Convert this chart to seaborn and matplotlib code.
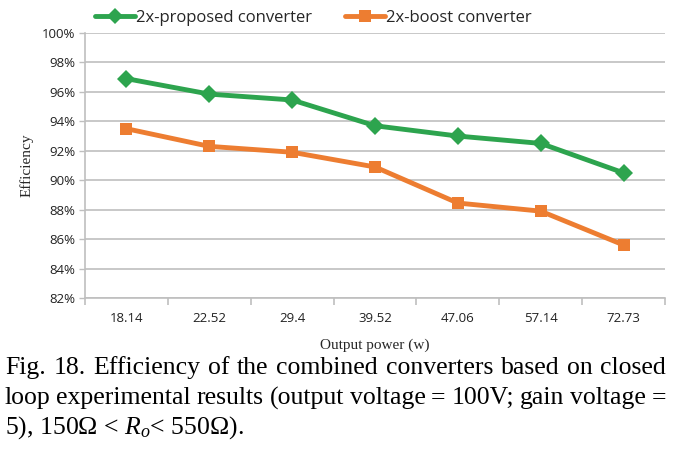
import numpy as np
import pandas as pd
import matplotlib
matplotlib.use("Agg")
import matplotlib.pyplot as plt
import seaborn as sns
from matplotlib.lines import Line2D

power = ["18.14", "22.52", "29.4", "39.52", "47.06", "57.14", "72.73"]
proposed = [96.9, 95.85, 95.45, 93.7, 93.0, 92.5, 90.5]
boost = [93.5, 92.3, 91.9, 90.9, 88.45, 87.9, 85.6]
series_names = ["2x-proposed converter", "2x-boost converter"]
yticks = [82, 84, 86, 88, 90, 92, 94, 96, 98, 100]

sns.set_theme(style="white")
plt.rcParams["font.family"] = ["Open Sans", "DejaVu Sans"]
plt.rcParams["mathtext.fontset"] = "custom"
plt.rcParams["mathtext.rm"] = "Liberation Serif"
plt.rcParams["mathtext.it"] = "Liberation Serif:italic"

df = pd.DataFrame({
    "pos": list(range(len(power))) * 2,
    "eff": proposed + boost,
    "series": [series_names[0]] * len(power) + [series_names[1]] * len(power),
})

fig = plt.figure(figsize=(6.85, 4.49), dpi=100)
ax = fig.add_axes([85 / 685, 1 - 298 / 449, 580 / 685, 265 / 449])

colors = {series_names[0]: "#2DA44E", series_names[1]: "#ED7D31"}
sns.lineplot(data=df, x="pos", y="eff", hue="series", style="series",
             markers={series_names[0]: "D", series_names[1]: "s"},
             dashes=False, palette=colors, linewidth=3.5,
             markersize=9, markeredgewidth=0, ax=ax, legend=False)

ax.set_xlim(-0.5, len(power) - 0.5)
ax.set_ylim(yticks[0], yticks[-1])
ax.set_yticks(yticks)
ax.set_yticklabels([f"{t}%" for t in yticks], fontsize=9.5, color="#222222")
ax.set_xticks(np.arange(len(power)))
ax.set_xticklabels(power, fontsize=9.5, color="#222222")
ax.tick_params(axis="x", length=0, pad=10)
ax.tick_params(axis="y", length=4, width=1, color="#BFBFBF", pad=3, direction="out", left=True)
ax.yaxis.grid(True, color="#BFBFBF", linewidth=1.2)
ax.set_axisbelow(True)
for s in ["top", "right"]:
    ax.spines[s].set_visible(False)
for s in ["left", "bottom"]:
    ax.spines[s].set_color("#BFBFBF")
    ax.spines[s].set_linewidth(1.2)
ax.set_xticks(np.arange(len(power) + 1) - 0.5, minor=True)
ax.tick_params(axis="x", which="minor", length=5, width=1.2, color="#BFBFBF", direction="out", bottom=True)

ax.set_xlabel("Output power (w)", fontsize=11, family="Liberation Serif", labelpad=10)
ax.set_ylabel("Efficiency", fontsize=11, family="Liberation Serif", labelpad=6)

handles = [Line2D([], [], color=colors[series_names[0]], marker="D", lw=3.5, ms=8, mew=0),
           Line2D([], [], color=colors[series_names[1]], marker="s", lw=3.5, ms=9, mew=0)]
fig.legend(handles, series_names, loc="center left", bbox_to_anchor=(95 / 685, 1 - 18 / 449),
           ncol=2, frameon=False, fontsize=12, handlelength=2.4, handletextpad=0.05,
           columnspacing=2.0, borderaxespad=0, borderpad=0)

cap_lines = [
    "Fig. 18. Efficiency of the combined converters based on closed",
    "loop experimental results (output voltage = 100V; gain voltage =",
]
cap_last = r"5), 150Ω < $R_o$< 550Ω)."
cap_fs = 18.5
left_px, right_px = 5, 666
ys = [368, 398, 428]
fig.canvas.draw()
r = fig.canvas.get_renderer()
for line, ypx in zip(cap_lines, ys):
    words = line.split(" ")
    texts = [fig.text(0, 1 - ypx / 449, w, fontsize=cap_fs, family="Liberation Serif",
                      va="center", ha="left", color="black") for w in words]
    widths = [t.get_window_extent(r).width for t in texts]
    gap = ((right_px - left_px) - sum(widths)) / (len(words) - 1)
    x = left_px
    for t, w in zip(texts, widths):
        t.set_x(x / 685)
        x += w + gap
fig.text(left_px / 685, 1 - ys[2] / 449, cap_last, fontsize=cap_fs, family="Liberation Serif",
         va="center", ha="left", color="black")

fig.savefig("out.png", dpi=100)
